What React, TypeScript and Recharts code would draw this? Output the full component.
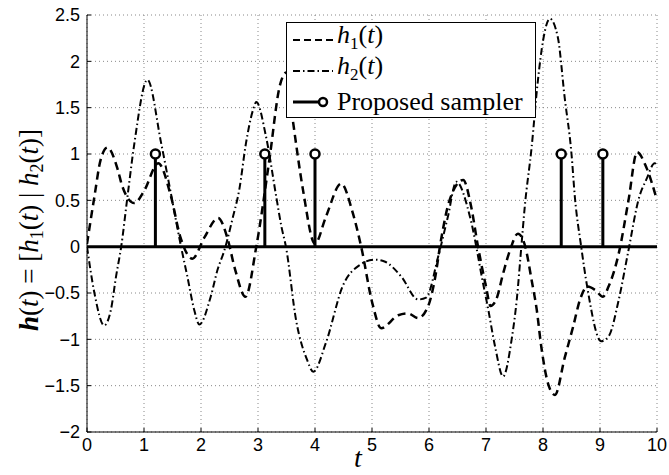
import React from "react";
import {
  ComposedChart,
  Line,
  XAxis,
  YAxis,
  CartesianGrid,
  ReferenceLine,
  Label,
} from "recharts";

// h1(t), dashed
const h1T = [0, 0.13, 0.24, 0.36, 0.54, 0.62, 0.83, 1.0, 1.25, 1.47, 1.64, 1.85, 2.06, 2.3, 2.46, 2.6, 2.78, 2.97, 3.2, 3.38, 3.5, 3.61, 3.79, 4.0, 4.19, 4.46, 4.66, 4.81, 5.01, 5.16, 5.46, 5.63, 5.81, 5.98, 6.1, 6.21, 6.36, 6.6, 6.74, 6.86, 7.0, 7.08, 7.18, 7.3, 7.42, 7.56, 7.68, 7.8, 7.89, 7.97, 8.1, 8.21, 8.38, 8.53, 8.65, 8.78, 8.92, 9.05, 9.15, 9.33, 9.5, 9.65, 9.81, 10];
const h1V = [0.03, 0.54, 0.94, 1.07, 0.83, 0.65, 0.47, 0.6, 0.9, 0.55, 0.1, -0.13, 0.1, 0.31, 0.1, -0.25, -0.54, 0.0, 0.94, 1.73, 1.88, 1.37, 0.61, 0.03, 0.32, 0.68, 0.37, 0.0, -0.62, -0.88, -0.74, -0.72, -0.77, -0.65, -0.36, 0.07, 0.5, 0.72, 0.43, 0.0, -0.43, -0.64, -0.57, -0.29, -0.04, 0.14, 0.02, -0.36, -0.68, -1.08, -1.5, -1.6, -1.2, -0.86, -0.57, -0.43, -0.47, -0.54, -0.43, -0.07, 0.5, 1.02, 0.86, 0.5];

// h2(t), dash-dot
const h2T = [0, 0.13, 0.3, 0.42, 0.51, 0.6, 0.71, 0.83, 1.06, 1.3, 1.47, 1.65, 1.76, 1.88, 1.97, 2.17, 2.29, 2.41, 2.56, 2.67, 2.79, 2.91, 2.97, 3.14, 3.32, 3.41, 3.49, 3.67, 3.86, 3.97, 4.19, 4.49, 4.78, 5.05, 5.22, 5.51, 5.81, 5.95, 6.16, 6.33, 6.48, 6.72, 6.95, 7.04, 7.16, 7.3, 7.45, 7.54, 7.62, 7.68, 7.8, 7.91, 8.0, 8.12, 8.26, 8.38, 8.5, 8.56, 8.67, 8.78, 9.02, 9.15, 9.33, 9.49, 9.69, 9.81, 9.96, 10];
const h2V = [0, -0.5, -0.85, -0.68, -0.32, 0, 0.54, 1.11, 1.8, 1.12, 0.58, 0, -0.32, -0.68, -0.84, -0.54, -0.25, -0.04, 0.32, 0.61, 1.12, 1.47, 1.56, 1.19, 0.54, 0.22, 0, -0.8, -1.22, -1.35, -1.04, -0.42, -0.2, -0.14, -0.16, -0.32, -0.57, -0.55, -0.11, 0.32, 0.7, 0.32, -0.4, -0.68, -1.08, -1.4, -1.0, -0.57, 0, 0.43, 1.07, 1.79, 2.22, 2.46, 2.26, 1.61, 1.0, 0.53, 0, -0.45, -1.02, -0.97, -0.57, -0.07, 0.54, 0.72, 0.9, 0.88];

// proposed sampler
const stemT = [1.2, 3.12, 4.0, 8.32, 9.05];
const stemV = [1, 1, 1, 1, 1];

const xTicks = [0, 1, 2, 3, 4, 5, 6, 7, 8, 9, 10];
const yTicks = [-2, -1.5, -1, -0.5, 0, 0.5, 1, 1.5, 2, 2.5];

const h1Data = h1T.map((t, i) => ({ t, v: h1V[i] }));
const h2Data = h2T.map((t, i) => ({ t, v: h2V[i] }));
const stemData = stemT.map((t, i) => [
  { t, v: 0 },
  { t, v: stemV[i] },
]);

const tickFont = { fontFamily: "Liberation Sans, Arial, sans-serif", fontSize: 18, fill: "#000" };
const serif = "Liberation Serif, Times New Roman, serif";

const fmt = (v: number) => (v < 0 ? `\u2212${Math.abs(v)}` : `${v}`);

function StemDot(props: any) {
  const { cx, cy, payload, index } = props;
  if (!payload || payload.v === 0) return <g key={`e${index}`} />;
  return (
    <circle
      key={`d${index}`}
      cx={cx}
      cy={cy}
      r={4.5}
      fill="#fff"
      stroke="#000"
      strokeWidth={2.5}
    />
  );
}

function YLabel() {
  return (
    <text
      transform="translate(38,230) rotate(-90)"
      textAnchor="middle"
      fontFamily={serif}
      fontSize={27}
      fill="#000"
    >
      <tspan fontWeight="bold" fontStyle="italic">h</tspan>
      <tspan>(</tspan>
      <tspan fontStyle="italic">t</tspan>
      <tspan>) = [</tspan>
      <tspan fontStyle="italic">h</tspan>
      <tspan fontSize={18} dy={5}>1</tspan>
      <tspan dy={-5}>(</tspan>
      <tspan fontStyle="italic">t</tspan>
      <tspan>) | </tspan>
      <tspan fontStyle="italic">h</tspan>
      <tspan fontSize={18} dy={5}>2</tspan>
      <tspan dy={-5}>(</tspan>
      <tspan fontStyle="italic">t</tspan>
      <tspan>)]</tspan>
    </text>
  );
}

function XLabel() {
  return (
    <text x={358} y={467} textAnchor="middle" fontFamily={serif} fontSize={28} fontStyle="italic" fill="#000">
      t
    </text>
  );
}

function LegendBox() {
  const row: React.CSSProperties = {
    display: "flex",
    alignItems: "center",
    height: 31,
    fontFamily: serif,
    fontSize: 26,
    lineHeight: "31px",
  };
  return (
    <div
      style={{
        position: "absolute",
        left: 286,
        top: 22,
        width: 250,
        height: 96,
        boxSizing: "border-box",
        border: "1px solid #000",
        background: "#fff",
        paddingTop: 1,
      }}
    >
      <div style={row}>
        <svg width={50} height={20}>
          <line x1={6} y1={10} x2={46} y2={10} stroke="#000" strokeWidth={2.2} strokeDasharray="7 4" />
        </svg>
        <span>
          <i>h</i>
          <sub style={{ fontSize: 17 }}>1</sub>(<i>t</i>)
        </span>
      </div>
      <div style={row}>
        <svg width={50} height={20}>
          <line x1={6} y1={10} x2={46} y2={10} stroke="#000" strokeWidth={2} strokeDasharray="7 3 1.5 3" />
        </svg>
        <span>
          <i>h</i>
          <sub style={{ fontSize: 17 }}>2</sub>(<i>t</i>)
        </span>
      </div>
      <div style={row}>
        <svg width={50} height={20}>
          <line x1={6} y1={10} x2={32} y2={10} stroke="#000" strokeWidth={3} />
          <circle cx={36} cy={10} r={4} fill="#fff" stroke="#000" strokeWidth={2.5} />
        </svg>
        <span>Proposed sampler</span>
      </div>
    </div>
  );
}

export default function App() {
  return (
    <div style={{ position: "absolute", left: 0, top: 0, width: 669, height: 475, background: "#fff" }}>
      <ComposedChart width={669} height={475} margin={{ top: 15, right: 12, bottom: 0, left: 0 }}>
        <CartesianGrid stroke="#888" strokeDasharray="1 3" />
        <XAxis
          dataKey="t"
          type="number"
          domain={[0, 10]}
          ticks={xTicks}
          allowDataOverflow
          height={43}
          axisLine={{ stroke: "#000" }}
          tickLine={{ stroke: "#000" }}
          tickSize={-4}
          tickMargin={10}
          tick={tickFont}
          interval={0}
        />
        <YAxis
          type="number"
          domain={[-2, 2.5]}
          ticks={yTicks}
          allowDataOverflow
          width={87}
          axisLine={{ stroke: "#000" }}
          tickLine={{ stroke: "#000" }}
          tickSize={-4}
          tickMargin={11}
          tick={tickFont}
          tickFormatter={fmt}
          interval={0}
        >
          <Label content={() => <YLabel />} />
        </YAxis>
        <Line
          data={h1Data}
          dataKey="v"
          type="monotone"
          stroke="#000"
          strokeWidth={2.5}
          strokeDasharray="8 5"
          dot={false}
          isAnimationActive={false}
        />
        <Line
          data={h2Data}
          dataKey="v"
          type="monotone"
          stroke="#000"
          strokeWidth={2}
          strokeDasharray="7 3 1.5 3"
          dot={false}
          isAnimationActive={false}
        />
        <ReferenceLine y={0} stroke="#000" strokeWidth={3} />
        {stemData.map((d, i) => (
          <Line
            key={i}
            data={d}
            dataKey="v"
            type="linear"
            stroke="#000"
            strokeWidth={3}
            dot={<StemDot />}
            isAnimationActive={false}
          />
        ))}
      </ComposedChart>
      <svg width={669} height={475} style={{ position: "absolute", left: 0, top: 0, pointerEvents: "none" }}>
        <XLabel />
      </svg>
      <LegendBox />
    </div>
  );
}
